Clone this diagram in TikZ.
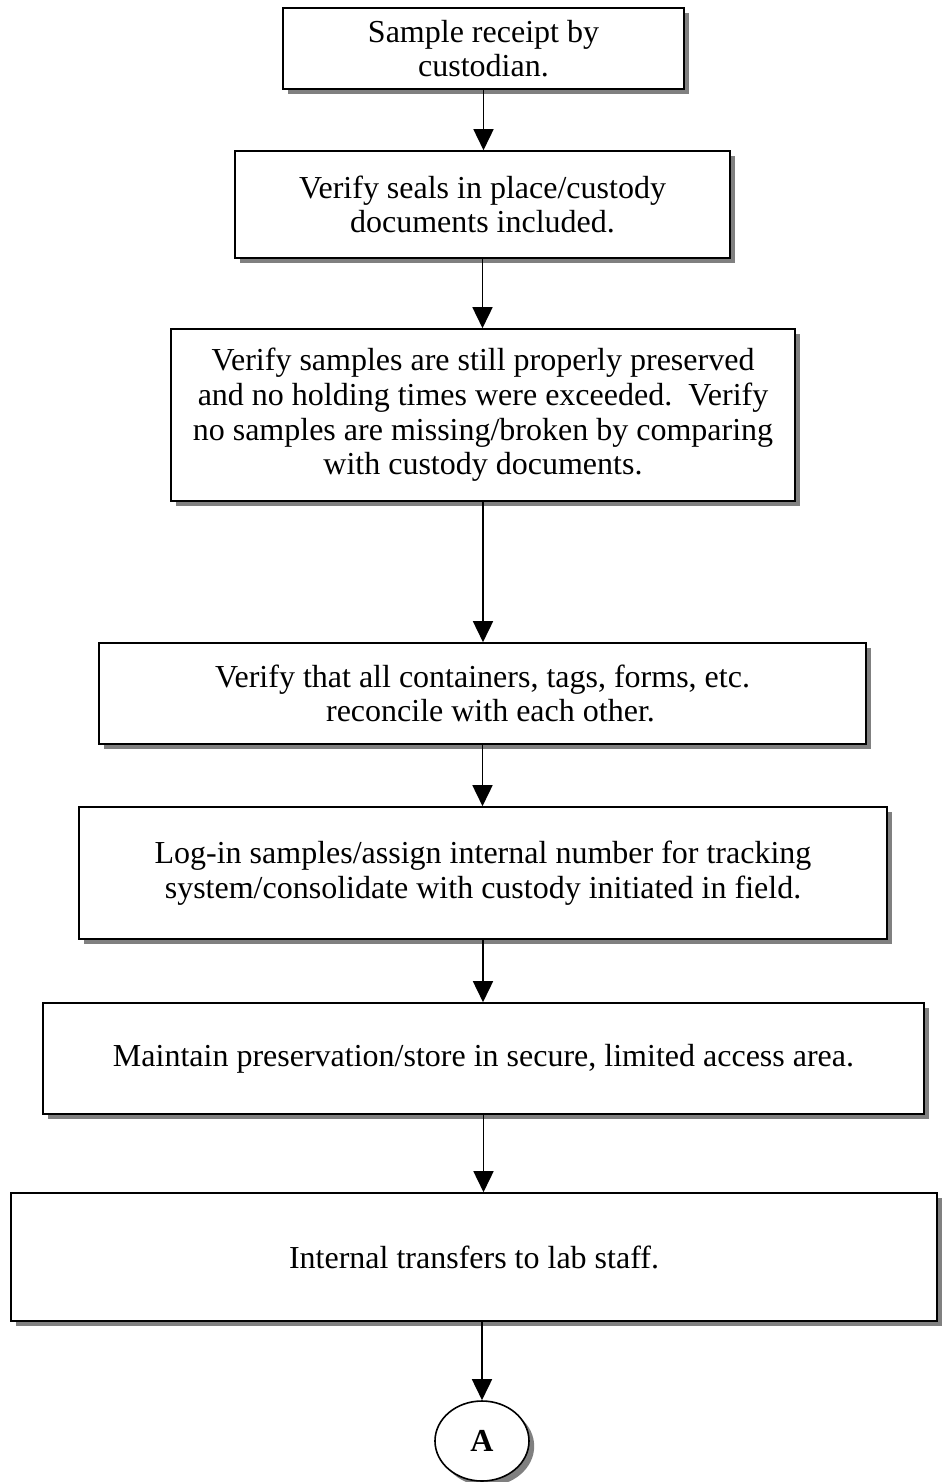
\documentclass[tikz,border=0pt]{standalone}
\usepackage{fontspec}
\setmainfont{Liberation Serif}
\usetikzlibrary{arrows.meta,shapes.geometric,shadows}
\newcommand\bxfont{\fontsize{24}{26}\selectfont}
\tikzset{
  box/.style={draw, line width=1.2pt, fill=white, align=center, font=\bxfont, inner sep=0pt,
    drop shadow={shadow xshift=3.9pt, shadow yshift=-3.9pt, fill=black!50, opacity=1}},
  arr/.style={-{Triangle[length=15.75pt,width=15pt]}, line width=1.2pt}
}
\begin{document}
\begin{tikzpicture}[x=0.75pt,y=-0.75pt]
\useasboundingbox (0,0) rectangle (948,1482);
\node[box, minimum width=401*0.75pt, minimum height=81*0.75pt] (b1) at (483.5,48.5) {Sample receipt by\\custodian.};
\node[box, minimum width=495*0.75pt, minimum height=107*0.75pt] (b2) at (482.5,204.5) {Verify seals in place/custody\\documents included.};
\node[box, minimum width=624*0.75pt, minimum height=172*0.75pt] (b3) at (483,415) {Verify samples are still properly preserved\\and no holding times were exceeded.\ \ Verify\\no samples are missing/broken by comparing\\with custody documents.};
\node[box, minimum width=767*0.75pt, minimum height=101*0.75pt] (b4) at (482.5,693.5) {Verify that all containers, tags, forms, etc.\\\ \ reconcile with each other.};
\node[box, minimum width=808*0.75pt, minimum height=132*0.75pt] (b5) at (483,873) {Log-in samples/assign internal number for tracking\\system/consolidate with custody initiated in field.};
\node[box, minimum width=881*0.75pt, minimum height=111*0.75pt] (b6) at (483.5,1058.5) {Maintain preservation/store in secure, limited access area.};
\node[box, minimum width=926*0.75pt, minimum height=128*0.75pt] (b7) at (474,1257) {Internal transfers to lab staff.};
\node[box, ellipse, minimum width=94*0.75pt, minimum height=80*0.75pt, font=\bxfont\bfseries] (A) at (482,1441) {A};
\draw[arr] (b1.south) -- (b1.south |- b2.north);
\draw[arr] (b2.south) -- (b2.south |- b3.north);
\draw[arr] (b3.south) -- (b3.south |- b4.north);
\draw[arr] (b4.south) -- (b4.south |- b5.north);
\draw[arr] (b5.south) -- (b5.south |- b6.north);
\draw[arr] (b6.south) -- (b6.south |- b7.north);
\draw[arr] (A.north |- b7.south) -- (A.north);
\end{tikzpicture}
\end{document}
